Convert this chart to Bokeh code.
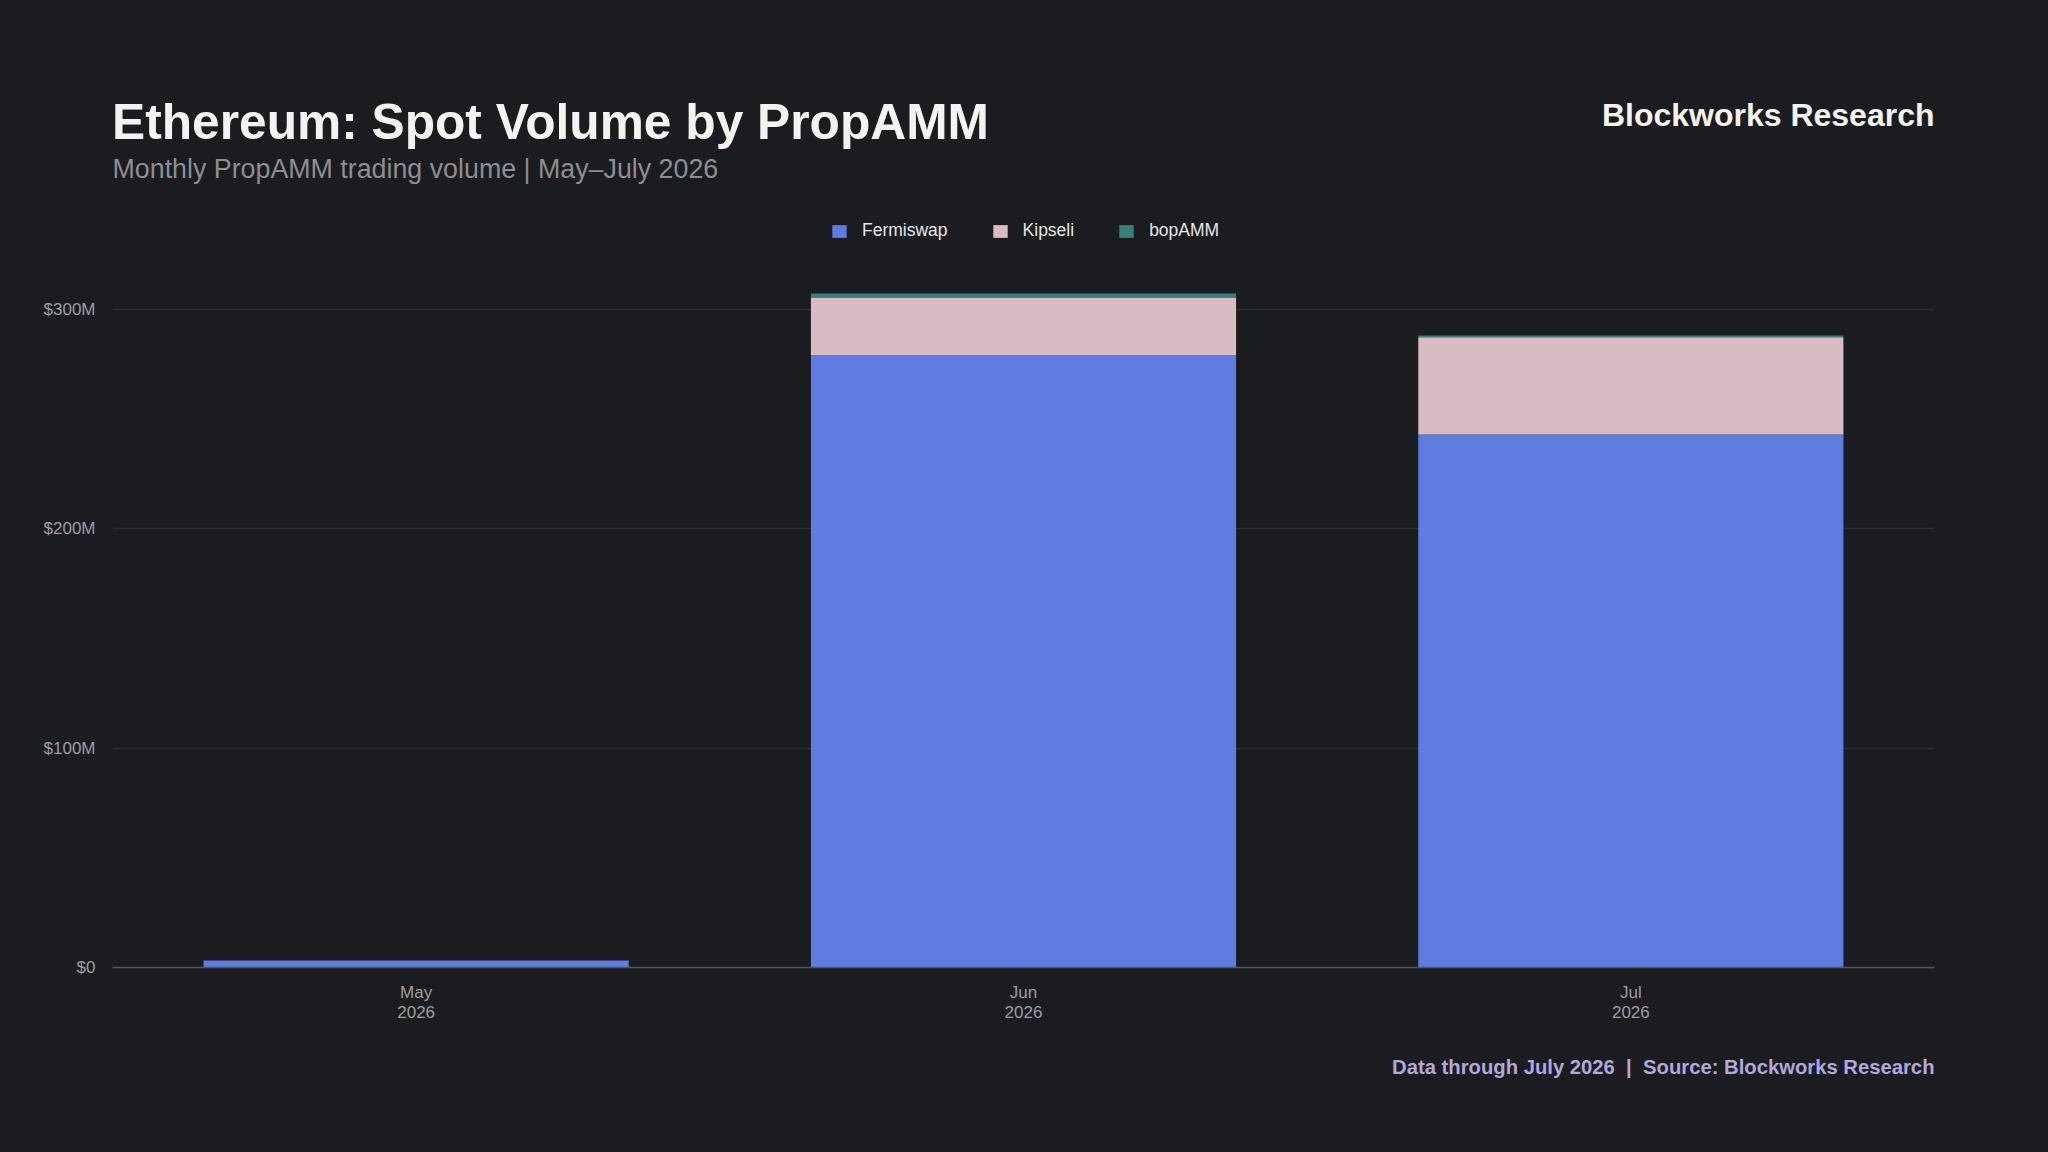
from bokeh.plotting import figure
from bokeh.layouts import column
from bokeh.models import (Label, Legend, LegendItem, FixedTicker, FactorRange,
                          Range1d, ColumnDataSource)
from bokeh.embed import file_html
from bokeh.resources import INLINE

# ---- data ----
month_labels = ["May\n2026", "Jun\n2026", "Jul\n2026"]
series = ["Fermiswap", "Kipseli", "bopAMM"]
fermiswap = [3.2, 279.1, 243.0]   # $M
kipseli = [0.0, 26.4, 44.4]       # $M
bopamm = [0.0, 1.8, 0.8]          # $M
y_ticks = [0, 100, 200, 300]
y_tick_labels = ["$0", "$100M", "$200M", "$300M"]

title_text = "Ethereum: Spot Volume by PropAMM"
subtitle_text = "Monthly PropAMM trading volume | May\u2013July 2026"
brand_text = "Blockworks Research"
footer_text = "Data through July 2026  |  Source: Blockworks Research"

# ---- style ----
BG = "#1b1c20"
colors = ["#5f7ce3", "#d9bbc3", "#3a7f7c"]
FONT = "Liberation Sans"

W = 2048
HEAD_H = 200
MAIN_H = 840
FOOT_H = 112
PLOT_L, PLOT_R = 112, 1934
AXIS_Y = 967
frame_h = AXIS_Y - HEAD_H
px_per_m = 658.0 / 300.0
y_end = frame_h / px_per_m
BASE_FIX = 0.37   # baseline correction (fraction of font size)


def text_fig(h):
    f = figure(width=W, height=h, x_range=Range1d(PLOT_L, PLOT_R),
               y_range=Range1d(0, h), output_backend="svg",
               toolbar_location=None, tools="",
               x_axis_type=None, y_axis_type=None, title=None)
    f.min_border_left = PLOT_L
    f.min_border_right = W - PLOT_R
    f.min_border_top = 0
    f.min_border_bottom = 0
    f.background_fill_color = BG
    f.border_fill_color = BG
    f.outline_line_color = None
    f.grid.grid_line_color = None
    return f


def add_label(f, h, x, base_from_top, text, size, color, bold=False, align="left"):
    y = h - base_from_top + BASE_FIX * size
    f.add_layout(Label(x=x, y=y, text=text,
                       text_font=FONT, text_font_size="%gpx" % size,
                       text_color=color,
                       text_font_style="bold" if bold else "normal",
                       text_align=align, text_baseline="alphabetic"))


# header
head = text_fig(HEAD_H)
add_label(head, HEAD_H, PLOT_L - 0.5, 140, title_text, 49.7, "#f5f3ef", bold=True)
add_label(head, HEAD_H, PLOT_L, 178.5, subtitle_text, 26.8, "#8e8e93")
add_label(head, HEAD_H, PLOT_R, 126.7, brand_text, 32, "#f5f3ef", bold=True,
          align="right")

# main chart
src = ColumnDataSource(dict(month=month_labels, Fermiswap=fermiswap,
                            Kipseli=kipseli, bopAMM=bopamm))

p = figure(width=W, height=MAIN_H, x_range=FactorRange(*month_labels),
           y_range=Range1d(0, y_end), output_backend="svg",
           toolbar_location=None, tools="", title=None)
p.min_border_left = PLOT_L
p.min_border_right = W - PLOT_R
p.min_border_top = 0
p.min_border_bottom = HEAD_H + MAIN_H - AXIS_Y
p.background_fill_color = BG
p.border_fill_color = BG
p.outline_line_color = None

rs = p.vbar_stack(series, x="month", width=0.7, color=colors, source=src,
                  line_color=None)

p.xaxis.axis_line_color = "#55565b"
p.xaxis.axis_line_width = 1.5
p.xaxis.major_tick_line_color = None
p.xaxis.minor_tick_line_color = None
p.xaxis.major_label_text_font = FONT
p.xaxis.major_label_text_font_size = "17px"
p.xaxis.major_label_text_color = "#9d9da3"
p.xaxis.major_label_text_line_height = 1.1
p.xaxis.major_label_standoff = 9

p.yaxis.ticker = FixedTicker(ticks=y_ticks)
p.yaxis.major_label_overrides = {t: l for t, l in zip(y_ticks, y_tick_labels)}
p.yaxis.axis_line_color = None
p.yaxis.major_tick_line_color = None
p.yaxis.minor_tick_line_color = None
p.yaxis.major_label_text_font = FONT
p.yaxis.major_label_text_font_size = "17px"
p.yaxis.major_label_text_color = "#9d9da3"
p.yaxis.major_label_standoff = 11

p.xgrid.grid_line_color = None
p.ygrid.grid_line_color = "#2b2c31"
p.ygrid.grid_line_width = 1.5

legend = Legend(items=[LegendItem(label=s, renderers=[r]) for s, r in zip(series, rs)],
                orientation="horizontal", location=(718, 726),
                glyph_width=18, glyph_height=16, label_standoff=14, spacing=43,
                label_text_font=FONT, label_text_font_size="17.5px",
                label_text_color="#e6e6e6", background_fill_alpha=0,
                border_line_color=None, padding=0, margin=0)
p.add_layout(legend, "center")

# footer (double spaces kept visible with no-break spaces)
foot = text_fig(FOOT_H)
add_label(foot, FOOT_H, PLOT_R, 1074.3 - HEAD_H - MAIN_H,
          footer_text.replace("  ", " \u00a0"), 20.25, "#b3a7db", bold=True,
          align="right")

layout = column(head, p, foot, spacing=0)
html = file_html(layout, INLINE, title="Ethereum: Spot Volume by PropAMM")
html = html.replace("<head>", "<head><style>body{background:%s;}</style>" % BG, 1)
open("out.html", "w").write(html)
